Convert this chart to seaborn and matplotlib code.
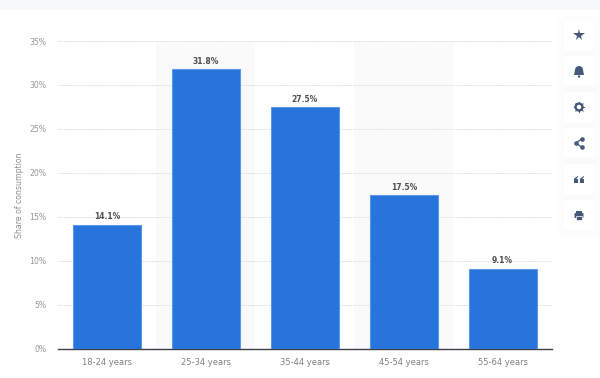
import pandas as pd
import matplotlib
matplotlib.use('Agg')
import matplotlib.pyplot as plt
from matplotlib.patches import FancyBboxPatch, Rectangle, Circle, Wedge, Polygon
import seaborn as sns

age_groups = ['18-24 years', '25-34 years', '35-44 years', '45-54 years', '55-64 years']
shares = [14.1, 31.8, 27.5, 17.5, 9.1]
share_labels = ['14.1%', '31.8%', '27.5%', '17.5%', '9.1%']
y_ticks = [0, 5, 10, 15, 20, 25, 30, 35]
y_tick_labels = ['0%', '5%', '10%', '15%', '20%', '25%', '30%', '35%']

sns.set_theme(style='white')
plt.rcParams['font.family'] = ['DejaVu Sans']

W, H = 600, 378
fig = plt.figure(figsize=(W / 100, H / 100), dpi=100, facecolor='white')

# overlay in pixel coordinates for the top strip
bg = fig.add_axes([0, 0, 1, 1], zorder=0)
bg.set_xlim(0, W)
bg.set_ylim(H, 0)
bg.axis('off')
bg.add_patch(Rectangle((0, 0), W, 10, color='#f7f8fa', lw=0))

ax = fig.add_axes([58 / W, (H - 348.5) / H, 494 / W, 307.5 / H], zorder=1)
ax.patch.set_alpha(0)

df = pd.DataFrame({'age': age_groups, 'share': shares})
ax.axvspan(0.49, 1.49, color='#fafafa', lw=0, zorder=0)
ax.axvspan(2.5, 3.5, color='#fafafa', lw=0, zorder=0)
sns.barplot(data=df, x='age', y='share', color='#2874dd', saturation=1, width=0.69,
            edgecolor='#5c97ee', linewidth=0.8, ax=ax, zorder=3)

ax.set_xlim(-0.5, 4.5)
ax.set_ylim(0, 35)
ax.set_yticks(y_ticks)
ax.set_yticklabels(y_tick_labels)
ax.yaxis.grid(True, color='#e2e2e2', linestyle=(0, (2, 1)), linewidth=0.7, zorder=1)
ax.set_axisbelow(True)
ax.set_xlabel('')
ax.set_ylabel('Share of consumption', fontsize=5.6, color='#8f8f8f', labelpad=3.5)
ax.tick_params(axis='y', length=0, pad=8.5, labelsize=5.6, labelcolor='#969696')
ax.tick_params(axis='x', length=0, pad=7, labelsize=6, labelcolor='#808080')
for side in ['top', 'left', 'right']:
    ax.spines[side].set_visible(False)
ax.spines['bottom'].set_color('#3b3f46')
ax.spines['bottom'].set_linewidth(1.0)

for i, label in enumerate(share_labels):
    ax.annotate(label, (i, shares[i]), xytext=(0, 2.3), textcoords='offset points',
                ha='center', va='bottom', fontsize=5.5, fontweight='bold', color='#505050')

# side buttons
fg = fig.add_axes([0, 0, 1, 1], zorder=2)
fg.set_xlim(0, W)
fg.set_ylim(H, 0)
fg.axis('off')
icon = '#45597a'
card_tops = [20, 56, 92, 128, 164, 200]
for top in card_tops:
    # soft shadow, widest layer first
    for grow in [7, 5, 3, 1]:
        fg.add_patch(FancyBboxPatch((564 - grow, top - grow + 1), 30 + 2 * grow, 30 + 2 * grow,
                                    boxstyle='round,pad=0,rounding_size=8',
                                    fc='#eef0f5', ec='none', alpha=0.05))
for top in card_tops:
    fg.add_patch(FancyBboxPatch((564, top), 30, 30, boxstyle='round,pad=0,rounding_size=3',
                                fc='white', ec='none'))
cx = 579
# star
fg.plot([cx], [35], marker='*', ms=8.5, color=icon, mew=0)
# bell
fg.add_patch(Wedge((cx, 70), 4, 180, 360, fc=icon, ec='none'))
fg.add_patch(Polygon([(cx - 4, 70), (cx + 4, 70), (cx + 5, 75), (cx - 5, 75)], fc=icon, ec='none'))
fg.add_patch(Circle((cx, 76.5), 1.2, fc=icon, ec='none'))
# gear
fg.plot([cx], [107], marker=(8, 1, 0), ms=9, color=icon, mew=0, zorder=1)
fg.add_patch(Circle((cx, 107), 3.5, fc='none', ec=icon, lw=1.6, zorder=2))
fg.add_patch(Circle((cx, 107), 2.2, fc='white', ec='none', zorder=3))
# share
sx, sy = [cx + 2.5, cx - 3, cx + 2.5], [139, 143, 147]
fg.plot(sx, sy, color=icon, lw=0.9)
fg.plot(sx, sy, 'o', ms=3.3, color=icon, mew=0)
# quote
for qx in [cx - 3, cx + 3]:
    fg.add_patch(Rectangle((qx - 2.3, 179), 4.6, 3.6, fc=icon, ec='none'))
    fg.add_patch(Polygon([(qx - 2.3, 179), (qx + 1.8, 175.8), (qx + 1.8, 177.2), (qx + 0.2, 179)],
                         fc=icon, ec='none'))
# print
fg.add_patch(Rectangle((cx - 2.8, 210.5), 5.6, 2.5, fc=icon, ec='none'))
fg.add_patch(FancyBboxPatch((cx - 4.5, 213), 9, 5, boxstyle='round,pad=0,rounding_size=1',
                            fc=icon, ec='none'))
fg.add_patch(Rectangle((cx - 2.8, 216), 5.6, 3.5, fc=icon, ec='white', lw=0.5))

fig.savefig('out.png', dpi=100)
